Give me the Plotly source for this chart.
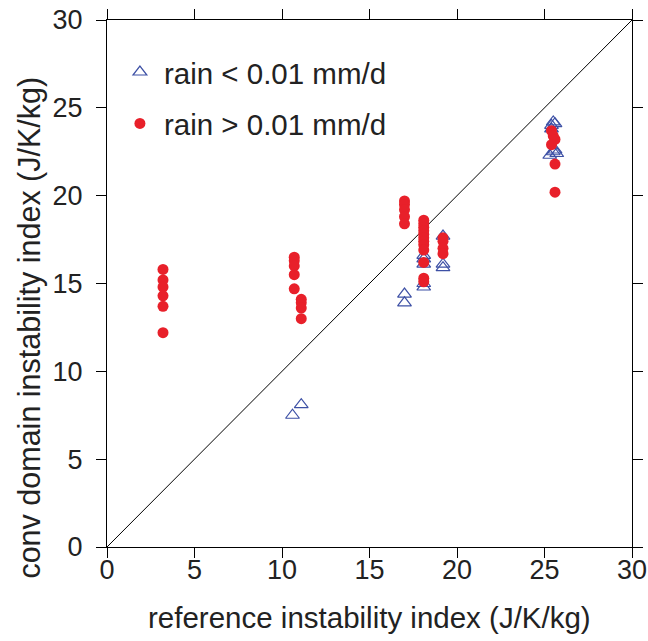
import plotly.graph_objects as go

# rain < 0.01 mm/d (open triangles)
dry_x = [10.6, 11.1, 17.0, 17.0, 18.1, 18.1, 18.1, 18.1, 18.1, 19.2, 19.2, 19.2,
         25.4, 25.5, 25.6, 25.4, 25.5, 25.3, 25.6, 25.7]
dry_y = [7.5, 8.1, 14.4, 13.9, 16.6, 16.4, 16.1, 15.0, 14.8, 17.7, 16.1, 15.9,
         24.0, 24.2, 24.1, 23.8, 22.5, 22.3, 22.6, 22.4]

# rain > 0.01 mm/d (filled dots)
wet_x = [3.2] * 6 + [10.7] * 5 + [11.1] * 4 + [17.0] * 5 + [18.1] * 12 + [19.2] * 4 + \
        [25.4, 25.5, 25.6, 25.4, 25.6, 25.6]
wet_y = [15.8, 15.2, 14.8, 14.3, 13.7, 12.2,
         16.5, 16.3, 16.0, 15.5, 14.7,
         14.1, 13.9, 13.6, 13.0,
         19.7, 19.5, 19.2, 18.8, 18.4,
         18.6, 18.4, 18.2, 18.0, 17.8, 17.6, 17.4, 17.2, 16.9, 16.2, 15.3, 15.1,
         17.6, 17.4, 17.0, 16.7,
         23.7, 23.4, 23.2, 22.9, 21.8, 20.2]

one_to_one = [0, 30]
tick_vals = [0, 5, 10, 15, 20, 25, 30]

font_family = "Liberation Sans, Arial, sans-serif"

fig = go.Figure()

# 1:1 line
fig.add_trace(go.Scatter(
    x=one_to_one, y=one_to_one, mode="lines",
    line=dict(color="black", width=1), showlegend=False, hoverinfo="skip",
))

fig.add_trace(go.Scatter(
    x=dry_x, y=dry_y, mode="markers", name="rain < 0.01 mm/d",
    legendgroup="dry",
    marker=dict(symbol="triangle-up-open", size=12, color="#3d50a5",
                line=dict(width=1.2, color="#3d50a5")),
))

fig.add_trace(go.Scatter(
    x=wet_x, y=wet_y, mode="markers", name="rain > 0.01 mm/d",
    legendgroup="wet",
    marker=dict(symbol="circle", size=11, color="#e8202a"),
))

axis_common = dict(
    range=[0, 30], tickvals=tick_vals, ticks="outside", ticklen=10,
    tickcolor="black", tickwidth=1, showline=True, linecolor="black",
    linewidth=1, mirror="ticks", showgrid=False, zeroline=False,
    automargin=False, ticklabeloverflow="allow",
    tickfont=dict(size=27, color="#222"),
)

# axis titles as annotations (the y title sits lower than the axis centre)
fig.add_annotation(text="reference instability index (J/K/kg)",
                   xref="paper", yref="paper", x=0.5, y=-0.133,
                   xanchor="center", yanchor="middle", showarrow=False,
                   font=dict(size=29.5, color="#222"))
fig.add_annotation(text="conv domain instability index (J/K/kg)",
                   xref="paper", yref="paper", x=-0.147, y=0.416,
                   xanchor="center", yanchor="middle", showarrow=False,
                   textangle=-90, font=dict(size=30.5, color="#222"))

fig.update_layout(
    width=648, height=641,
    margin=dict(l=107, r=16, t=20, b=94),
    plot_bgcolor="white", paper_bgcolor="white",
    font=dict(family=font_family, color="#222"),
    xaxis=dict(axis_common, ticklabelstandoff=-11),
    yaxis=dict(axis_common, ticklabelstandoff=8),
    legend=dict(x=0.017, y=0.95, xanchor="left", yanchor="top",
                font=dict(size=29.5, color="#222"), bgcolor="rgba(0,0,0,0)",
                tracegroupgap=10, itemsizing="trace", itemwidth=38),
)

# drop the default 8px body margin so the figure fills the window
fig.write_html("out.html", config={"displayModeBar": False},
               post_script="document.body.style.margin='0';")
